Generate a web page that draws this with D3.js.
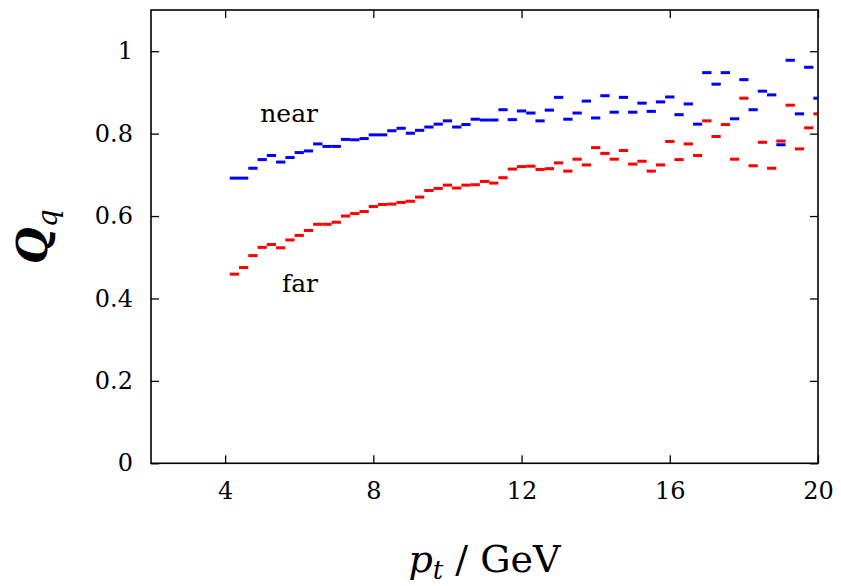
<!DOCTYPE html>
<html>
<head>
<meta charset="utf-8">
<script src="https://cdn.jsdelivr.net/npm/d3@7"></script>
<style>
  html, body { margin: 0; padding: 0; background: #fff; }
  svg { display: block; }
  text { font-family: "DejaVu Serif", "Liberation Serif", serif; fill: #000; }
</style>
</head>
<body>
<svg id="chart" width="841" height="586"></svg>
<script>
// ---- data ----
const ptBins = [4.25,4.5,4.75,5,5.25,5.5,5.75,6,6.25,6.5,6.75,7,7.25,7.5,7.75,8,
  8.25,8.5,8.75,9,9.25,9.5,9.75,10,10.25,10.5,10.75,11,11.25,11.5,11.75,12,
  12.25,12.5,12.75,13,13.25,13.5,13.75,14,14.25,14.5,14.75,15,15.25,15.5,15.75,16,
  16.25,16.5,16.75,17,17.25,17.5,17.75,18,18.25,18.5,18.75,19,19.25,19.5,19.75,20];
const binWidth = 0.25;
const nearValues = [0.692,0.692,0.716,0.737,0.747,0.731,0.742,0.754,0.758,0.775,0.769,0.769,
  0.786,0.785,0.788,0.797,0.797,0.807,0.813,0.801,0.808,0.816,0.823,0.831,0.816,0.822,0.835,
  0.833,0.833,0.858,0.834,0.855,0.850,0.831,0.857,0.888,0.835,0.850,0.879,0.838,0.892,0.852,
  0.888,0.852,0.874,0.854,0.877,0.889,0.846,0.872,0.823,0.948,0.920,0.948,0.836,0.931,0.858,
  0.903,0.894,0.773,0.978,0.848,0.961,0.886];
const farValues = [0.459,0.475,0.504,0.524,0.531,0.523,0.542,0.553,0.565,0.580,0.580,0.585,
  0.600,0.606,0.611,0.623,0.628,0.629,0.633,0.636,0.646,0.662,0.667,0.675,0.668,0.675,0.676,
  0.684,0.680,0.693,0.714,0.720,0.721,0.713,0.715,0.729,0.709,0.738,0.724,0.766,0.752,0.738,
  0.759,0.726,0.733,0.709,0.724,0.781,0.737,0.775,0.747,0.831,0.793,0.822,0.738,0.886,0.722,
  0.779,0.716,0.782,0.869,0.763,0.814,0.848];
const xTicks = [4, 8, 12, 16, 20];
const yTicks = [0, 0.2, 0.4, 0.6, 0.8, 1];
const yTickLabels = ["0", "0.2", "0.4", "0.6", "0.8", "1"];
const xDomain = [2, 20];
const yDomain = [0, 1.1];

// ---- layout ----
const W = 841, H = 586;
const m = { left: 151, right: 23, top: 10, bottom: 122.7 };
const svg = d3.select("#chart");
const x = d3.scaleLinear().domain(xDomain).range([m.left, W - m.right]);
const y = d3.scaleLinear().domain(yDomain).range([H - m.bottom, m.top]);

svg.append("defs").append("clipPath").attr("id", "plotclip")
  .append("rect")
  .attr("x", x(xDomain[0])).attr("y", y(yDomain[1]))
  .attr("width", x(xDomain[1]) - x(xDomain[0]))
  .attr("height", y(yDomain[0]) - y(yDomain[1]));

const series = [
  { name: "near", values: nearValues, color: "#0000ff" },
  { name: "far", values: farValues, color: "#ff0000" }
];
const dashH = 3;
const gData = svg.append("g").attr("clip-path", "url(#plotclip)");
series.forEach(s => {
  gData.append("g").selectAll("rect")
    .data(ptBins.map((p, i) => ({ p, v: s.values[i] })))
    .join("rect")
    .attr("x", d => x(d.p - binWidth / 2))
    .attr("width", d => x(d.p + binWidth / 2) - x(d.p - binWidth / 2))
    .attr("y", d => y(d.v) - dashH / 2)
    .attr("height", dashH)
    .attr("fill", s.color);
});

// ---- axes ----
const tickLen = 8;
const fs = 24;
const xAxis = svg.append("g").attr("transform", `translate(0,${y(0)})`)
  .call(d3.axisBottom(x).tickValues(xTicks).tickSize(-tickLen).tickPadding(19).tickFormat(d3.format("d")));
const xAxisTop = svg.append("g").attr("transform", `translate(0,${y(yDomain[1])})`)
  .call(d3.axisTop(x).tickValues(xTicks).tickSize(-tickLen).tickFormat(""));
const yAxis = svg.append("g").attr("transform", `translate(${x(xDomain[0])},0)`)
  .call(d3.axisLeft(y).tickValues(yTicks).tickSize(-tickLen).tickPadding(18)
    .tickFormat((d, i) => yTickLabels[i]));
const yAxisRight = svg.append("g").attr("transform", `translate(${x(xDomain[1])},0)`)
  .call(d3.axisRight(y).tickValues(yTicks).tickSize(-tickLen).tickFormat(""));

[xAxis, xAxisTop, yAxis, yAxisRight].forEach(g => {
  g.select(".domain").remove();
  g.selectAll(".tick line").attr("stroke", "#000").attr("stroke-width", 1.3);
  g.selectAll(".tick text").style("font-family", "DejaVu Serif").style("font-size", fs + "px").attr("fill", "#000");
});

// frame
svg.append("rect")
  .attr("x", x(xDomain[0])).attr("y", y(yDomain[1]))
  .attr("width", x(xDomain[1]) - x(xDomain[0]))
  .attr("height", y(yDomain[0]) - y(yDomain[1]))
  .attr("fill", "none").attr("stroke", "#000").attr("stroke-width", 1.6);

// series labels
svg.append("text").attr("x", 318).attr("y", 122).attr("text-anchor", "end")
  .style("font-size", "25px").text("near");
svg.append("text").attr("x", 318).attr("y", 292).attr("text-anchor", "end")
  .style("font-size", "25px").text("far");

// x title
const xt = svg.append("text").attr("x", (x(xDomain[0]) + x(xDomain[1])) / 2).attr("y", 572)
  .attr("text-anchor", "middle").style("font-size", "38px");
xt.append("tspan").style("font-style", "italic").text("p");
xt.append("tspan").style("font-style", "italic").style("font-size", "26px").attr("dy", 7).text("t");
xt.append("tspan").attr("dy", -7).text(" / GeV");

// y title
const yt = svg.append("text")
  .attr("transform", `translate(47,${(y(0) + y(yDomain[1])) / 2}) rotate(-90)`)
  .attr("text-anchor", "middle").style("font-size", "42px");
yt.append("tspan").style("font-style", "italic").style("font-weight", "bold").text("Q");
yt.append("tspan").style("font-style", "italic").style("font-size", "28px").attr("dy", 10).text("q");
</script>
</body>
</html>
